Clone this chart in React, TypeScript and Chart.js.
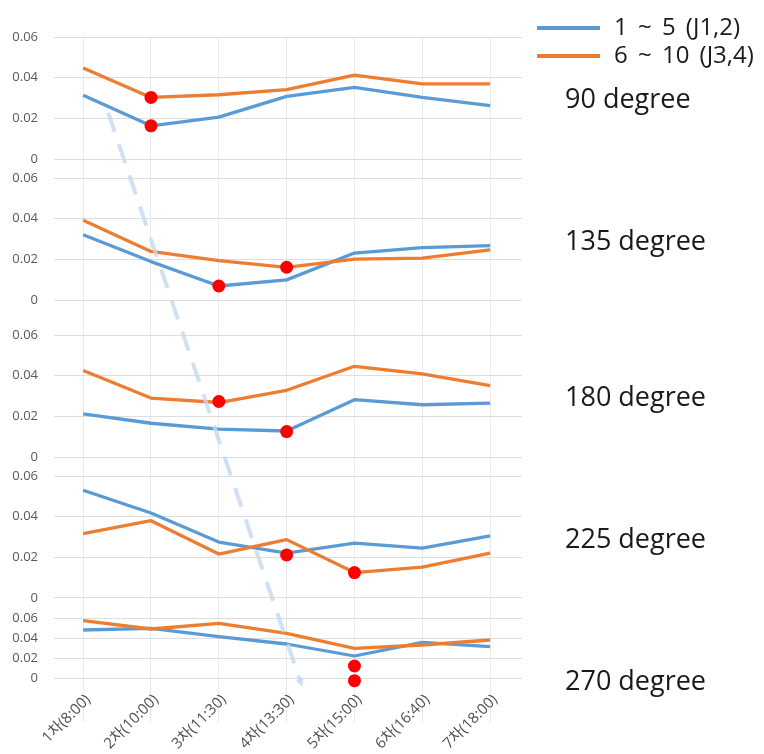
import React, { useEffect, useRef } from 'react';
import { Chart, registerables } from 'chart.js';

Chart.register(...registerables);

const categories = ['1차(8:00)', '2차(10:00)', '3차(11:30)', '4차(13:30)', '5차(15:00)', '6차(16:40)', '7차(18:00)'];
const panelNames = ['90 degree', '135 degree', '180 degree', '225 degree', '270 degree'];
const seriesNames = ['1 ~ 5 (J1,2)', '6 ~ 10 (J3,4)'];
const yTicks = [0, 0.02, 0.04, 0.06];

const blue90 = [0.0313, 0.0163, 0.0206, 0.0308, 0.0352, 0.0303, 0.0262];
const orange90 = [0.0448, 0.0303, 0.0316, 0.0341, 0.0412, 0.0369, 0.0369];
const blue135 = [0.0321, 0.0189, 0.0069, 0.0099, 0.0231, 0.0258, 0.0267];
const orange135 = [0.0392, 0.0239, 0.0194, 0.0161, 0.0201, 0.0206, 0.0247];
const blue180 = [0.0212, 0.0166, 0.0137, 0.0128, 0.0282, 0.0257, 0.0265];
const orange180 = [0.0425, 0.029, 0.0268, 0.0328, 0.0446, 0.0409, 0.0351];
const blue225 = [0.053, 0.0418, 0.0275, 0.0221, 0.027, 0.0245, 0.0306];
const orange225 = [0.0316, 0.038, 0.0216, 0.0287, 0.0125, 0.0152, 0.0221];
const blue270 = [0.048, 0.0497, 0.0413, 0.034, 0.022, 0.0357, 0.0313];
const orange270 = [0.0573, 0.049, 0.0547, 0.0447, 0.0297, 0.033, 0.038];

// red minimum markers: category index and value per panel
const markerCategory = [[1, 1], [2, 3], [2, 3], [3, 4], [4, 4]];
const markerValue = [[0.0303, 0.0163], [0.0069, 0.0161], [0.0273, 0.0125], [0.0212, 0.0125], [0.012, -0.0027]];

// dashed guide arrow: [category position, value, panel]
const guideFrom = [0.37, 0.0227, 0];
const guideTo = [3.23, -0.009, 4];

const BLUE = '#5B9BD5';
const ORANGE = '#ED7D31';
const RED = '#FF0000';
const FONT = '"Open Sans", "Noto Sans CJK KR", sans-serif';

// layout of the stacked panels (axis minimum gives the gap below each panel)
const panelMin = [-0.00934, -0.0172, -0.00934, -0.00984, -0.012];
const panelWeight = [141, 157, 141, 142, 72];
const labelAnchor = [0.029, 0.0285, 0.029, 0.0285, -0.004];

const overlay = {
  id: 'overlay',
  afterDatasetsDraw(chart: any) {
    const ctx = chart.ctx;
    const xs = chart.scales.x;
    const x0 = xs.getPixelForValue(guideFrom[0]);
    const y0 = chart.scales['y' + guideFrom[2]].getPixelForValue(guideFrom[1]);
    const x1 = xs.getPixelForValue(guideTo[0]);
    const y1 = chart.scales['y' + guideTo[2]].getPixelForValue(guideTo[1]);
    ctx.save();
    ctx.strokeStyle = 'rgba(196,218,240,0.8)';
    ctx.fillStyle = 'rgba(196,218,240,0.8)';
    ctx.lineWidth = 4;
    ctx.setLineDash([20, 13]);
    const ang = Math.atan2(y1 - y0, x1 - x0);
    const ah = 9;
    ctx.beginPath();
    ctx.moveTo(x0, y0);
    ctx.lineTo(x1 - Math.cos(ang) * ah * 0.6, y1 - Math.sin(ang) * ah * 0.6);
    ctx.stroke();
    ctx.setLineDash([]);
    ctx.beginPath();
    ctx.moveTo(x1, y1);
    ctx.lineTo(x1 - Math.cos(ang - 0.45) * ah, y1 - Math.sin(ang - 0.45) * ah);
    ctx.lineTo(x1 - Math.cos(ang + 0.45) * ah, y1 - Math.sin(ang + 0.45) * ah);
    ctx.closePath();
    ctx.fill();
    ctx.restore();
  },
  afterDraw(chart: any) {
    const ctx = chart.ctx;
    ctx.save();
    const colors = [BLUE, ORANGE];
    const ly = [28, 56];
    seriesNames.forEach((n, i) => {
      ctx.strokeStyle = colors[i];
      ctx.lineWidth = 4;
      ctx.beginPath();
      ctx.moveTo(537, ly[i]);
      ctx.lineTo(600, ly[i]);
      ctx.stroke();
      ctx.fillStyle = '#1a1a1a';
      ctx.font = `24px ${FONT}`;
      ctx.textBaseline = 'middle';
      ctx.textAlign = 'left';
      try { (ctx as any).wordSpacing = '4px'; } catch (e) {}
      ctx.fillText(n, 614, ly[i]);
      try { (ctx as any).wordSpacing = '0px'; } catch (e) {}
    });
    panelNames.forEach((n, i) => {
      const y = chart.scales['y' + i].getPixelForValue(labelAnchor[i]);
      ctx.fillStyle = '#1a1a1a';
      ctx.font = `27px ${FONT}`;
      ctx.textBaseline = 'middle';
      ctx.textAlign = 'left';
      ctx.fillText(n, 565, y);
    });
    ctx.restore();
  },
};

export default function App() {
  const ref = useRef<HTMLCanvasElement>(null);
  useEffect(() => {
    const panels = [
      [blue90, orange90],
      [blue135, orange135],
      [blue180, orange180],
      [blue225, orange225],
      [blue270, orange270],
    ];
    const datasets: any[] = [];
    panels.forEach((p, i) => {
      const yid = 'y' + i;
      datasets.push({ label: seriesNames[0], data: p[0], borderColor: BLUE, backgroundColor: BLUE, borderWidth: 3.3, pointRadius: 0, tension: 0, yAxisID: yid, order: 2, borderJoinStyle: 'round' });
      datasets.push({ label: seriesNames[1], data: p[1], borderColor: ORANGE, backgroundColor: ORANGE, borderWidth: 3.3, pointRadius: 0, tension: 0, yAxisID: yid, order: 1, borderJoinStyle: 'round' });
      datasets.push({
        label: 'min',
        data: markerCategory[i].map((c, k) => ({ x: categories[c], y: markerValue[i][k] })),
        showLine: false,
        pointRadius: 6.5,
        pointBackgroundColor: RED,
        pointBorderColor: RED,
        pointBorderWidth: 0,
        borderColor: RED,
        yAxisID: yid,
        order: 0,
      });
    });
    const scales: any = {
      x: {
        type: 'category',
        labels: categories,
        offset: false,
        border: { display: false },
        grid: { color: '#e9e9e9', tickLength: 32, drawTicks: true },
        ticks: { minRotation: 45, maxRotation: 45, autoSkip: false, padding: -31, labelOffset: 5, color: '#505050', font: { size: 15, family: FONT } },
        afterBuildTicks: (s: any) => {
          s._startValue = -0.43;
          s._valueRange = 6.9;
        },
        afterFit: (s: any) => {
          s.height = 64;
        },
      },
    };
    panelMin.forEach((mn, i) => {
      scales['y' + i] = {
        type: 'linear',
        position: 'left',
        stack: 'panels',
        stackWeight: panelWeight[i],
        weight: 5 - i,
        min: mn,
        max: 0.06,
        offset: false,
        border: { display: false },
        grid: { color: '#dedede', drawTicks: false },
        ticks: {
          padding: 16,
          autoSkip: false,
          color: '#595959',
          font: { size: 13, family: FONT },
          callback: (v: any) => (v === 0 ? '0' : Number(v).toFixed(2)),
        },
        afterBuildTicks: (s: any) => {
          s.ticks = yTicks.map((v) => ({ value: v }));
        },
        afterFit: (s: any) => {
          s.width = 54;
        },
      };
    });
    const chart = new Chart(ref.current!, {
      type: 'line',
      data: { labels: categories, datasets },
      options: {
        animation: false,
        responsive: false,
        maintainAspectRatio: false,
        layout: { padding: { top: 37, right: 242, bottom: 0, left: 0 } },
        plugins: { legend: { display: false }, tooltip: { enabled: false } },
        scales,
      },
      plugins: [overlay],
    });
    return () => chart.destroy();
  }, []);
  return (
    <div style={{ position: 'absolute', left: 0, top: 0, width: 764, height: 754, background: '#fff' }}>
      <canvas ref={ref} width={764} height={754} />
    </div>
  );
}
